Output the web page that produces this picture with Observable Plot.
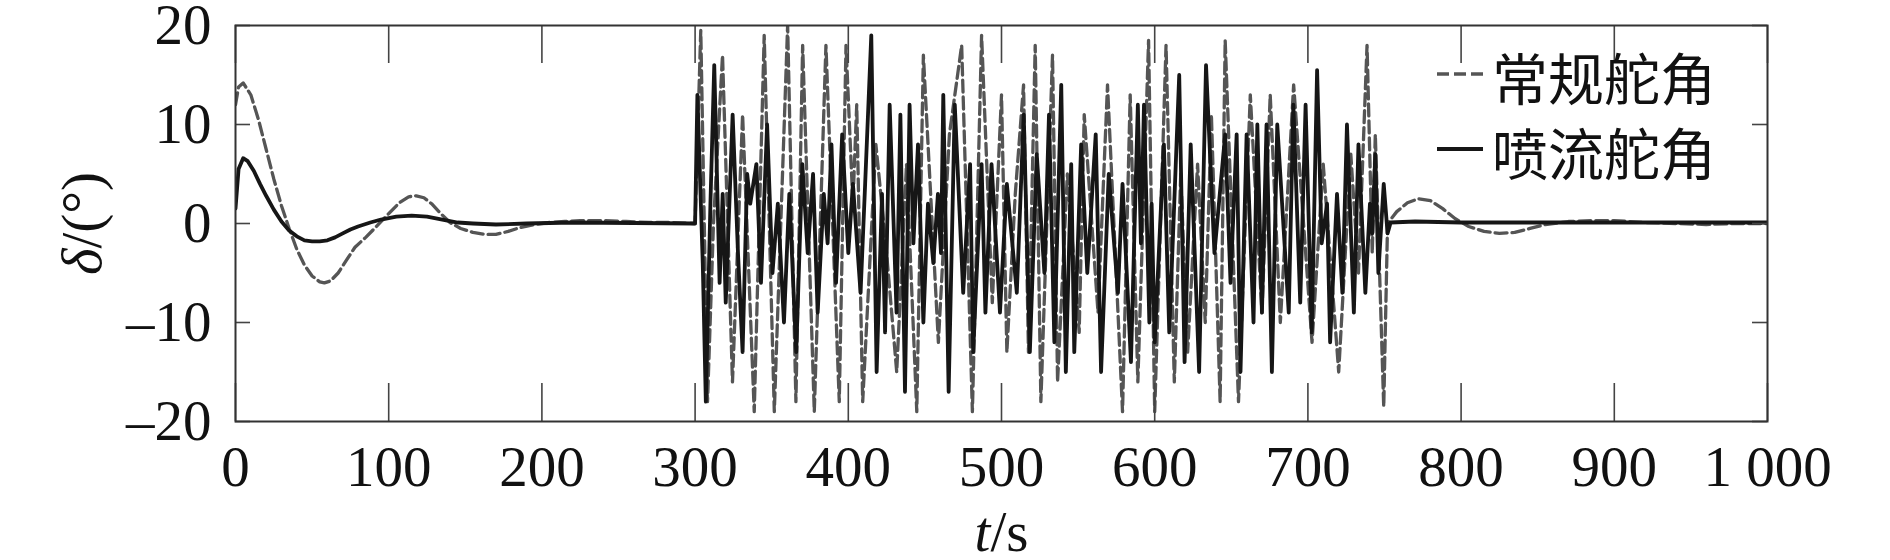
<!DOCTYPE html>
<html>
<head>
<meta charset="utf-8">
<script src="https://cdn.jsdelivr.net/npm/d3@7"></script>
<script src="https://cdn.jsdelivr.net/npm/@observablehq/plot@0.6"></script>
<style>
  html, body { margin: 0; padding: 0; background: #fff; }
  #chart { width: 1890px; height: 560px; overflow: hidden; }
</style>
</head>
<body>
<div id="chart"></div>
<script>
// ---------------- data ----------------
const xTicks = [0, 100, 200, 300, 400, 500, 600, 700, 800, 900, 1000];
const xTickLabels = ["0", "100", "200", "300", "400", "500", "600", "700", "800", "900", "1 000"];
const yTicks = [-20, -10, 0, 10, 20];
const yTickLabels = ["–20", "–10", "0", "10", "20"];
const xTitle = "t/s";
const yTitle = "δ/(°)";
const seriesNames = ["常规舵角", "喷流舵角"];

// 常规舵角 (dashed): [t (s), δ (°)]
const conventionalRudder = [
  [0,12],[2,13.8],[5,14.2],[10,13],[15,10.5],[20,7.5],[25,4.5],[30,1.8],[35,-0.5],[40,-2.6],
  [45,-4.2],[50,-5.3],[55,-5.9],[58,-6],[62,-5.8],[67,-5],[72,-3.8],[78,-2.4],[85,-1.4],[92,-0.3],
  [100,1],[107,2.1],[113,2.7],[118,2.8],[123,2.6],[128,2],[134,1],[140,0.1],[147,-0.5],[155,-0.9],
  [163,-1.1],[170,-1.1],[178,-0.8],[186,-0.4],[195,-0.1],[205,0.1],[215,0.2],[225,0.3],[240,0.3],
  [255,0.2],[270,0.1],[285,0.1],[299,0],
  [300,0],[301.5,8],[303.7,19.5],[308.1,-18],[312,0],[317.9,17],[324.4,-16],[331,11],[338.6,-19],
  [345.1,19],[351.7,-19],[360.4,20],[365.8,-18],[370.2,18],[377.8,-19],[385.4,18],[394.1,-18],
  [398.5,18],[403,2],[405.5,12],[409.4,-18],[418,8],[425,-3],[431.6,-15],[438,6],[444.7,-19],
  [449,17],[458.8,-12],[466,9],[474,18],[481,-19],[487,19],[494,-8],[500,13],[503.5,-13],[509,3],
  [514.4,14],[517.6,-13],[522,18],[525.7,-18],[533.3,17],[536.6,-16],[543,5],[550.7,-11],[554,11],
  [563,-9],[569.2,14],[579,-19],[584,13],[589,-16],[596,18.5],[600,-19],[607.4,18],[612.8,-16],
  [617,5],[621.5,-13],[628,6],[633,-10],[637,11],[642.7,-18],[646,18.5],[654.7,-18],[662.4,13],
  [670,-9],[675.4,13],[682,-10],[690.7,14],[702.7,-12],[710,6],[720.1,-15],[728,7],[733,-5],
  [738.6,18],[742,-3],[744,9],[749.5,-18.5],[752,0],
  [758,1.2],[765,2.1],[772,2.5],[780,2.3],[788,1.5],[796,0.5],[805,-0.3],[815,-0.8],[825,-1],
  [835,-0.9],[845,-0.5],[855,-0.1],[870,0.2],[885,0.3],[900,0.3],[920,0.1],[940,0],[960,-0.1],
  [980,0],[1000,0]
];

// 喷流舵角 (solid): [t (s), δ (°)]
const jetRudder = [
  [0,1.5],[2,5.5],[5,6.6],[8,6.3],[12,5.3],[16,4],[20,2.8],[25,1.4],[30,0.2],[35,-0.7],[40,-1.3],
  [45,-1.7],[50,-1.8],[55,-1.8],[60,-1.7],[65,-1.4],[70,-1],[75,-0.6],[80,-0.3],[88,0.1],[95,0.4],
  [105,0.7],[115,0.8],[125,0.7],[135,0.4],[145,0.1],[155,0],[170,-0.1],[190,0],[220,0.1],[260,0.05],
  [299,0],
  [300,0],[301.5,13],[305,-4],[307,-18],[310,2],[312.5,16],[316,-6],[318,3],[320,-8],[324.5,11],
  [328,-3],[331,-13],[334,5],[336,2],[340,6],[343,-6],[347,10],[350.5,-5],[354,2],[358,-10],
  [361.5,3],[366,-13],[370,6],[373.5,-3],[377,5],[380,-9],[384,3],[386.5,-2],[389,8],[392,-6],
  [396,9],[400,-3],[403,4],[408,-7],[411,4],[415,19],[418.5,-15],[422,3],[424,-11],[427,12],
  [431.5,-9],[434,11],[437,-17],[440,12],[442.5,-2],[445.5,8],[449,-10],[452,2],[455.5,-4],
  [458.5,3],[460.5,-3],[462,13],[465.5,-17],[469.5,12],[475,-7],[479.5,6],[481.5,-13],[487,6],
  [489.5,-9],[493.5,6],[499,-9],[503.5,4],[510,-7],[514.5,11],[518.5,-13],[523,7],[528,-5],
  [531,11],[534.5,-12],[539,14],[542,-15],[545.5,6],[547.5,-13],[552,8],[556,-5],[561.5,9],
  [565,-15],[570,5],[576,-7],[579,4],[584.5,-14],[589,12],[591,-2],[593,12],[596.5,-10],[598,2],
  [600,-12],[606,8],[609.5,-11],[616,15],[619.5,-14],[623.5,8],[629,-15],[633.5,16],[639,-3],
  [646,9],[649.5,-6],[653.5,9],[656,-15],[660,9],[664.5,-10],[667,10],[670,-9],[673,10],
  [676.5,-15],[680,10],[687.5,-9],[690.5,12],[695,-8],[698.5,12],[702.5,-11],[706,15.5],[709,-2],
  [712.5,2],[714.5,-12],[719,3],[722.5,-7],[725.5,10],[730,-9],[733,8],[737.5,-7],[740.5,2],
  [742,-1],[744,7],[746,-5],[749.5,4],[752,-1],[754,0.1],
  [770,0.2],[800,0.1],[830,0.1],[860,0.1],[900,0.1],[950,0.1],[1000,0.1]
];

// ---------------- layout / style ----------------
const W = 1890, H = 560;
const mL = 235, mR = 123, mT = 25, mB = 139;
const plotW = W - mL - mR, plotH = H - mT - mB;
const serif = "'Liberation Serif', 'Times New Roman', serif";
const cjk = "'Noto Sans CJK SC', 'Noto Sans', sans-serif";
const FS = 57;
const dashStroke = "#555555", solidStroke = "#161616";

const xLabelMap = new Map(xTicks.map((d, i) => [d, xTickLabels[i]]));
const yLabelMap = new Map(yTicks.map((d, i) => [d, yTickLabels[i]]));
const rows = (arr) => arr.map(([t, v]) => ({t, v}));

const chart = Plot.plot({
  width: W, height: H,
  marginLeft: mL, marginRight: mR, marginTop: mT, marginBottom: mB,
  style: {fontFamily: serif, fontSize: FS + "px", background: "#fff", color: "#111"},
  x: {domain: [0, 1000], axis: null, label: null},
  y: {domain: [-20, 20], axis: null, label: null},
  marks: [
    Plot.line(rows(conventionalRudder), {x: "t", y: "v", stroke: dashStroke, strokeWidth: 3.3, strokeDasharray: "12,5", clip: true}),
    Plot.line(rows(jetRudder), {x: "t", y: "v", stroke: solidStroke, strokeWidth: 3.8, strokeLinejoin: "round", clip: true}),
    // inward ticks
    Plot.ruleX(xTicks, {x: d => d, stroke: "#444", strokeWidth: 1.6, insetTop: plotH - 38}),
    Plot.ruleX(xTicks, {x: d => d, stroke: "#444", strokeWidth: 1.6, insetBottom: plotH - 38}),
    Plot.ruleY(yTicks, {y: d => d, stroke: "#444", strokeWidth: 1.6, insetRight: plotW - 15}),
    Plot.ruleY(yTicks, {y: d => d, stroke: "#444", strokeWidth: 1.6, insetLeft: plotW - 15}),
    Plot.axisX(xTicks, {anchor: "bottom", label: null, tickSize: 0, tickPadding: 24, tickFormat: d => xLabelMap.get(d), fontSize: FS, fill: "#111", fontFamily: serif}),
    Plot.axisY(yTicks, {anchor: "left", label: null, tickSize: 0, tickPadding: 24, tickFormat: d => yLabelMap.get(d), fontSize: FS, fill: "#111", fontFamily: serif}),
    Plot.text([yTitle], {text: d => d, frameAnchor: "left", dx: -153, rotate: -90, fontSize: FS, fill: "#111", textAnchor: "middle", lineAnchor: "middle", fontFamily: serif}),
    Plot.text([xTitle], {text: d => d, frameAnchor: "bottom", dy: 111, fontSize: FS, fill: "#111", textAnchor: "middle", lineAnchor: "middle", fontFamily: serif}),
    Plot.frame({stroke: "#333", strokeWidth: 2})
  ]
});

document.getElementById("chart").appendChild(chart);

// italic variables in titles
chart.querySelectorAll("text").forEach(el => {
  if (el.textContent === yTitle) el.innerHTML = '<tspan font-style="italic">δ</tspan>/(°)';
  else if (el.textContent === xTitle) el.innerHTML = '<tspan font-style="italic">t</tspan>/s';
});

// legend inside the frame (top right)
const legendItems = [
  {label: seriesNames[0], stroke: dashStroke, dash: "12,5", width: 3.4},
  {label: seriesNames[1], stroke: solidStroke, dash: null, width: 4}
];
const lg = d3.select(chart).append("g").attr("text-anchor", "start");
const legX0 = mL + plotW - 330, legRowY = [mT + 49, mT + 124];
legendItems.forEach((it, i) => {
  const y = legRowY[i];
  lg.append("line").attr("x1", legX0).attr("x2", legX0 + 46).attr("y1", y).attr("y2", y)
    .attr("stroke", it.stroke).attr("stroke-width", it.width)
    .attr("stroke-dasharray", it.dash);
  lg.append("text").attr("x", legX0 + 55).attr("y", y + 1)
    .attr("text-anchor", "start")
    .attr("dominant-baseline", "central")
    .attr("font-family", cjk).attr("font-size", 56).attr("fill", "#111")
    .text(it.label);
});
</script>
</body>
</html>
